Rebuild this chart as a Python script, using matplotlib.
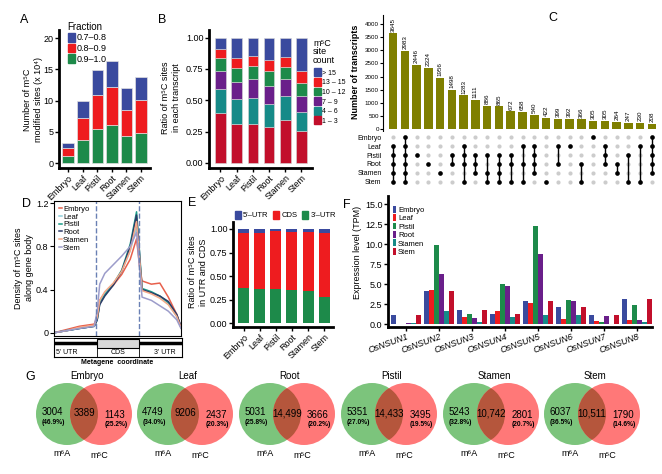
import matplotlib
matplotlib.use("Agg")
import matplotlib.pyplot as plt
from matplotlib.patches import Patch, Circle, Rectangle
import numpy as np

plt.rcParams['font.family'] = ['Liberation Sans', 'DejaVu Sans']

W, H = 662, 474

# ---- data ----
tissues = ["Embryo", "Leaf", "Pistil", "Root", "Stamen", "Stem"]

# A: m5C sites (x10^4), stacked segments
frac_green = [1.2, 3.7, 5.5, 6.1, 4.3, 4.8]   # 0.9-1.0
frac_red = [1.2, 3.5, 5.4, 6.1, 4.2, 5.3]     # 0.8-0.9
frac_blue = [0.8, 2.7, 4.0, 4.1, 3.5, 3.6]    # 0.7-0.8

# B: ratio of sites per transcript (segments, bottom to top)
site_count_labels = ["1 \u2013 3", "4 \u2013 6", "7 \u2013 9", "10 \u2013 12", "13 \u2013 15", "> 15"]
cnt_1_3 = [0.395, 0.312, 0.312, 0.288, 0.341, 0.253]
cnt_4_6 = [0.195, 0.198, 0.208, 0.184, 0.192, 0.155]
cnt_7_9 = [0.143, 0.138, 0.147, 0.144, 0.136, 0.125]
cnt_10_12 = [0.102, 0.112, 0.109, 0.120, 0.099, 0.102]
cnt_13_15 = [0.072, 0.080, 0.077, 0.085, 0.075, 0.101]
cnt_gt15 = [0.093, 0.160, 0.147, 0.179, 0.157, 0.264]

# C: upset plot
upset_counts = [3645, 2983, 2446, 2324, 1956, 1498, 1283, 1111, 886, 865, 672, 658,
                540, 422, 399, 392, 366, 305, 305, 264, 247, 230, 208]
upset_sets = [
    ["Leaf", "Pistil", "Root", "Stamen", "Stem"],
    ["Embryo", "Leaf", "Pistil", "Root", "Stamen", "Stem"],
    ["Pistil"],
    ["Root"],
    ["Stamen"],
    ["Pistil", "Root"],
    ["Leaf", "Pistil", "Root", "Stem"],
    ["Pistil", "Root", "Stamen"],
    ["Pistil", "Stamen", "Stem"],
    ["Pistil", "Root", "Stamen", "Stem"],
    ["Pistil", "Root", "Stem"],
    ["Leaf", "Root", "Stem"],
    ["Leaf", "Pistil", "Root", "Stamen"],
    ["Stem"],
    ["Leaf", "Root"],
    ["Leaf"],
    ["Root", "Stem"],
    ["Embryo"],
    ["Leaf", "Pistil", "Root"],
    ["Root", "Stamen"],
    ["Pistil", "Stem"],
    ["Leaf", "Stem"],
    ["Embryo", "Leaf", "Pistil", "Root", "Stamen"],
]

# D: metagene density
meta_x = [0, 0.3, 0.6, 0.95, 1.02, 1.08, 1.2, 1.4, 1.6, 1.8, 1.95, 2.02, 2.08, 2.3, 2.5, 2.7, 2.9, 3.0]
dens_embryo = [0, 0.03, 0.06, 0.08, 0.15, 0.30, 0.37, 0.44, 0.54, 0.68, 0.87, 0.62, 0.48, 0.45, 0.46, 0.33, 0.17, 0.05]
dens_leaf = [0, 0.02, 0.04, 0.06, 0.12, 0.28, 0.36, 0.45, 0.57, 0.76, 0.98, 0.70, 0.40, 0.37, 0.33, 0.27, 0.15, 0.05]
dens_pistil = [0, 0.02, 0.04, 0.06, 0.12, 0.27, 0.35, 0.45, 0.58, 0.82, 1.12, 0.75, 0.41, 0.38, 0.34, 0.28, 0.16, 0.05]
dens_root = [0, 0.02, 0.04, 0.06, 0.12, 0.26, 0.34, 0.44, 0.57, 0.80, 1.09, 0.72, 0.40, 0.37, 0.34, 0.29, 0.17, 0.06]
dens_stamen = [0, 0.02, 0.05, 0.07, 0.14, 0.30, 0.38, 0.46, 0.57, 0.76, 1.03, 0.70, 0.39, 0.36, 0.32, 0.26, 0.15, 0.05]
dens_stem = [0, 0.02, 0.04, 0.06, 0.20, 0.45, 0.55, 0.63, 0.71, 0.80, 0.93, 0.60, 0.33, 0.30, 0.25, 0.20, 0.12, 0.04]

# E: site location ratio
utr3 = [0.378, 0.360, 0.364, 0.357, 0.343, 0.276]
cds = [0.576, 0.600, 0.611, 0.615, 0.629, 0.684]
utr5 = [0.046, 0.040, 0.025, 0.028, 0.028, 0.040]

# F: NSUN expression (TPM)
genes = ["OsNSUN1", "OsNSUN2", "OsNSUN3", "OsNSUN4", "OsNSUN5", "OsNSUN6", "OsNSUN7", "OsNSUN8"]
expr_embryo = [1.1, 4.1, 1.8, 1.2, 2.9, 2.1, 1.1, 3.1]
expr_leaf = [0.05, 4.2, 0.9, 1.6, 2.6, 0.6, 0.4, 0.5]
expr_pistil = [0.05, 9.9, 1.2, 5.0, 12.3, 3.0, 0.3, 2.4]
expr_root = [0.1, 6.2, 0.8, 4.8, 8.8, 2.9, 1.0, 0.5]
expr_stamen = [0.1, 1.6, 0.2, 0.9, 1.1, 1.1, 0.05, 0.2]
expr_stem = [1.1, 4.1, 1.8, 1.2, 2.9, 2.1, 1.1, 3.1]

# G: venn
venn_tissues = ["Embryo", "Leaf", "Root", "Pistil", "Stamen", "Stem"]
m6a_only = [3004, 4749, 5031, 5351, 5243, 6037]
m6a_pct = [46.9, 34.0, 25.8, 27.0, 32.8, 36.5]
both = [3389, 9206, 14499, 14433, 10742, 10511]
m5c_only = [1143, 2437, 3666, 3495, 2801, 1790]
m5c_pct = [25.2, 20.3, 20.2, 19.5, 20.7, 14.6]

BLUE = "#3a4a9e"
RED = "#ee1c1f"
GREEN = "#1d8a4a"
PURPLE = "#6a1f8a"
TEAL = "#168a88"
CRIMSON = "#c20f2b"


def rect(l, t, r, b):
    return [l / W, 1 - b / H, (r - l) / W, (b - t) / H]


def fx(x):
    return x / W


def fy(y):
    return 1 - y / H


def style(ax, fs=7):
    for s in ["top", "right"]:
        ax.spines[s].set_visible(False)
    for s in ["left", "bottom"]:
        ax.spines[s].set_linewidth(2)
    ax.tick_params(labelsize=fs, length=3, width=1, pad=1)


fig = plt.figure(figsize=(W / 100, H / 100), dpi=100)

# ---------- A ----------
axA = fig.add_axes(rect(59, 30, 150, 168))
x = np.arange(len(tissues))
axA.bar(x, frac_green, 0.8, color=GREEN, edgecolor="#e0e0e0", lw=0.5)
axA.bar(x, frac_red, 0.8, bottom=frac_green, color=RED, edgecolor="#e0e0e0", lw=0.5)
axA.bar(x, frac_blue, 0.8, bottom=np.add(frac_green, frac_red), color=BLUE, edgecolor="#e0e0e0", lw=0.5)
axA.set_xlim(-0.64, 5.63)
axA.set_ylim(-0.8, 21.3)
axA.set_yticks([0, 5, 10, 15, 20])
axA.set_xticks(x)
axA.set_xticklabels(tissues, rotation=45, ha="right", rotation_mode="anchor")
style(axA, fs=6.5)
fig.text(fx(33), fy(100), "Number of m\u2075C\nmodified sites (x 10\u2074)", rotation=90,
         ha="center", va="center", fontsize=6.5, multialignment="center")
fig.text(fx(20), fy(20), "A", fontsize=9, ha="left", va="center")
fig.legend([Patch(color=BLUE), Patch(color=RED), Patch(color=GREEN)],
           ["0.7\u20130.8", "0.8\u20130.9", "0.9\u20131.0"], title="Fraction",
           loc="upper left", bbox_to_anchor=(fx(63), fy(17)), frameon=False,
           fontsize=6.5, title_fontsize=7, handlelength=0.8, handleheight=1.1,
           handletextpad=0.2, labelspacing=0.15, borderpad=0, alignment="left")

# ---------- B ----------
axB = fig.add_axes(rect(209, 30, 312, 168))
segs = [cnt_1_3, cnt_4_6, cnt_7_9, cnt_10_12, cnt_13_15, cnt_gt15]
segcols = [CRIMSON, TEAL, PURPLE, GREEN, RED, BLUE]
bottom = np.zeros(len(tissues))
for s, c in zip(segs, segcols):
    axB.bar(x, s, 0.66, bottom=bottom, color=c, edgecolor="#d8d8d8", lw=0.4)
    bottom += np.array(s)
axB.set_xlim(-0.71, 5.65)
axB.set_ylim(-0.042, 1.062)
axB.set_yticks([0, 0.25, 0.5, 0.75, 1.0])
axB.set_yticklabels(["0.00", "0.25", "0.50", "0.75", "1.00"])
axB.set_xticks(x)
axB.set_xticklabels(tissues, rotation=45, ha="right", rotation_mode="anchor")
style(axB, fs=6.5)
fig.text(fx(171), fy(98), "Ratio of m\u2075C sites\nin each transcript", rotation=90,
         ha="center", va="center", fontsize=6.5, multialignment="center")
fig.text(fx(158), fy(20), "B", fontsize=9, ha="left", va="center")
fig.text(fx(313), fy(52), "m\u2075C\nsite\ncount", fontsize=6.5, ha="left", va="center", linespacing=0.9)
fig.legend([Patch(color=c) for c in segcols[::-1]], site_count_labels[::-1],
           loc="upper left", bbox_to_anchor=(fx(311), fy(65)), frameon=False,
           fontsize=5, handlelength=0.9, handleheight=1.35, handletextpad=0.2,
           labelspacing=0.2, borderpad=0)

# ---------- C ----------
axC = fig.add_axes(rect(383, 15, 660, 131))
xc = np.arange(len(upset_counts))
axC.bar(xc, upset_counts, 0.72, color="#7f7f00")
for i, v in enumerate(upset_counts):
    axC.text(i, v + 60, str(v), rotation=90, ha="center", va="bottom", fontsize=4.5)
axC.set_xlim(-0.85, 22.68)
axC.set_ylim(-76, 4343)
axC.set_xticks([])
axC.set_yticks(range(0, 4001, 500))
axC.tick_params(labelsize=4.5, length=2, pad=1)
for s in ["top", "right", "bottom"]:
    axC.spines[s].set_visible(False)
fig.text(fx(356), fy(72), "Number of transcripts", rotation=90, ha="center", va="center",
         fontsize=6.5, fontweight="bold")
fig.text(fx(548), fy(18), "C", fontsize=9, ha="left", va="center")

axM = fig.add_axes(rect(383, 132, 660, 188))
rows = tissues
for i, members in enumerate(upset_sets):
    ys = [5 - rows.index(m) for m in members]
    for r in range(6):
        axM.scatter(i, r, s=9, color="#cccccc", zorder=1, lw=0)
    if len(ys) > 1:
        axM.plot([i, i], [min(ys), max(ys)], color="black", lw=1, zorder=2)
    axM.scatter([i] * len(ys), ys, s=11, color="black", zorder=3, lw=0)
axM.set_xlim(-0.85, 22.68)
axM.set_ylim(-0.67, 5.56)
axM.set_xticks([])
axM.set_yticks(range(6))
axM.set_yticklabels(rows[::-1], fontsize=5)
axM.tick_params(length=0, pad=1)
for s in axM.spines.values():
    s.set_visible(False)

# ---------- D ----------
axD = fig.add_axes(rect(54, 201, 181, 336))
dcols = ["#e8604c", "#8fd0dc", "#1a9c88", "#2d3a68", "#f5a988", "#9c9cca"]
for dens, c, lab in zip([dens_embryo, dens_leaf, dens_pistil, dens_root, dens_stamen, dens_stem],
                        dcols, tissues):
    axD.plot(meta_x, dens, color=c, lw=1.1, label=lab)
axD.axvline(1, color="#6a80b4", ls="--", lw=1)
axD.axvline(2, color="#6a80b4", ls="--", lw=1)
axD.set_xlim(0, 3)
axD.set_ylim(-0.03, 1.22)
axD.set_xticks([])
axD.set_yticks([0, 0.4, 0.8, 1.2])
axD.set_yticklabels(["0", "0.4", "0.8", "1.2"])
axD.tick_params(labelsize=6.5, length=3, pad=1)
axD.legend(loc="upper left", frameon=False, fontsize=5.5, handlelength=0.4,
           handletextpad=0.2, labelspacing=0.05, borderaxespad=0.2)
fig.text(fx(24), fy(268), "Density of m\u2075C sites\nalong gene body", rotation=90,
         ha="center", va="center", fontsize=6.5, multialignment="center")
fig.text(fx(22), fy(204), "D", fontsize=9, ha="left", va="center")

axG = fig.add_axes(rect(54, 338, 182, 357))
axG.plot([0, 3], [0.72, 0.72], color="black", lw=2.5)
axG.add_patch(Rectangle((1, 0.5), 1, 0.44, facecolor="#d8d8d8", edgecolor="black", lw=0.8, zorder=3))
axG.plot([1, 1], [0, 0.5], color="black", lw=0.6)
axG.plot([2, 2], [0, 0.5], color="black", lw=0.6)
axG.text(0.3, 0.22, "5' UTR", fontsize=5, ha="center", va="center")
axG.text(1.5, 0.22, "CDS", fontsize=5, ha="center", va="center")
axG.text(2.6, 0.22, "3' UTR", fontsize=5, ha="center", va="center")
axG.set_xlim(0, 3)
axG.set_ylim(0, 1)
axG.set_xticks([])
axG.set_yticks([])
fig.text(fx(117), fy(363), "Metagene  coordinate", fontsize=5, ha="center", va="center", fontweight="bold")

# ---------- E ----------
axE = fig.add_axes(rect(233, 222, 333, 327))
axE.bar(x, utr3, 0.68, color=GREEN)
axE.bar(x, cds, 0.68, bottom=utr3, color=RED)
axE.bar(x, utr5, 0.68, bottom=np.add(utr3, cds), color=BLUE)
axE.set_xlim(-0.65, 5.54)
axE.set_ylim(-0.039, 1.074)
axE.set_yticks([0, 0.25, 0.5, 0.75, 1.0])
axE.set_yticklabels(["0.00", "0.25", "0.50", "0.75", "1.00"])
axE.set_xticks(x)
axE.set_xticklabels(tissues, rotation=45, ha="right", rotation_mode="anchor")
style(axE, fs=6.5)
fig.text(fx(198), fy(272), "Ratio of m\u2075C sites\nin UTR and CDS", rotation=90,
         ha="center", va="center", fontsize=6.5, multialignment="center")
fig.text(fx(188), fy(203), "E", fontsize=9, ha="left", va="center")
fig.legend([Patch(color=BLUE), Patch(color=RED), Patch(color=GREEN)],
           ["5'\u2013UTR", "CDS", "3'\u2013UTR"], loc="center left",
           bbox_to_anchor=(fx(231), fy(215)), ncol=3, frameon=False, fontsize=5.5,
           handlelength=0.8, handleheight=1.3, handletextpad=0.3, columnspacing=0.6, borderpad=0)

# ---------- F ----------
axF = fig.add_axes(rect(388, 196, 652, 327))
xg = np.arange(len(genes))
fcols = [BLUE, RED, GREEN, PURPLE, TEAL, CRIMSON]
for j, (vals, c, lab) in enumerate(zip([expr_embryo, expr_leaf, expr_pistil, expr_root, expr_stamen, expr_stem],
                                       fcols, tissues)):
    axF.bar(xg + (j - 2.5) * 0.15, vals, 0.15, color=c, label=lab)
axF.set_xlim(-0.55, 7.45)
axF.set_ylim(-0.375, 16.0)
axF.set_yticks([0, 2.5, 5, 7.5, 10, 12.5, 15])
axF.set_yticklabels(["0.0", "2.5", "5.0", "7.5", "10.0", "12.5", "15.0"])
axF.set_xticks(xg)
axF.set_xticklabels(genes, rotation=20, ha="right", rotation_mode="anchor", style="italic")
style(axF, fs=6.5)
axF.legend(loc="upper left", bbox_to_anchor=(0.0, 0.96), frameon=False, fontsize=5.5,
           handlelength=0.4, handleheight=1.0, handletextpad=0.3, labelspacing=0.05, borderaxespad=0.2)
fig.text(fx(357), fy(252), "Expression level (TPM)", rotation=90, ha="center", va="center", fontsize=6.5)
fig.text(fx(343), fy(205), "F", fontsize=9, ha="left", va="center")

# ---------- G ----------
axV = fig.add_axes(rect(0, 365, 662, 474))
axV.set_xlim(0, W)
axV.set_ylim(474, 365)
axV.axis("off")
centers = [84, 185, 287, 389, 491, 592]
cy = 414
r = 31
for c, t, a, ap, b, m, mp in zip(centers, venn_tissues, m6a_only, m6a_pct, both, m5c_only, m5c_pct):
    g = Circle((c - 17, cy), r, facecolor="#7cc47c", edgecolor="none")
    rd = Circle((c + 17, cy), r, facecolor="#ff7878", edgecolor="none")
    axV.add_patch(g)
    axV.add_patch(rd)
    ov = Circle((c + 17, cy), r, facecolor="#b5563c", edgecolor="none")
    axV.add_patch(ov)
    ov.set_clip_path(g)
    btxt = f"{b:,}" if b >= 10000 else str(b)
    axV.text(c - 32, cy - 2, str(a), fontsize=7, ha="center", va="center")
    axV.text(c - 31, cy + 8, f"({ap}%)", fontsize=4.8, ha="center", va="center", fontweight="bold")
    axV.text(c, cy - 1, btxt, fontsize=7, ha="center", va="center")
    axV.text(c + 31, cy + 1, str(m), fontsize=7, ha="center", va="center")
    axV.text(c + 32, cy + 11, f"({mp}%)", fontsize=4.8, ha="center", va="center", fontweight="bold")
    axV.text(c + 3, 376, t, fontsize=7, ha="center", va="center")
    axV.text(c - 22, 453, "m\u2076A", fontsize=6.5, ha="center", va="center")
    axV.text(c + 15, 455, "m\u2075C", fontsize=6.5, ha="center", va="center")
fig.text(fx(25), fy(377), "G", fontsize=9, ha="left", va="center")

fig.savefig("out.png", dpi=100)
